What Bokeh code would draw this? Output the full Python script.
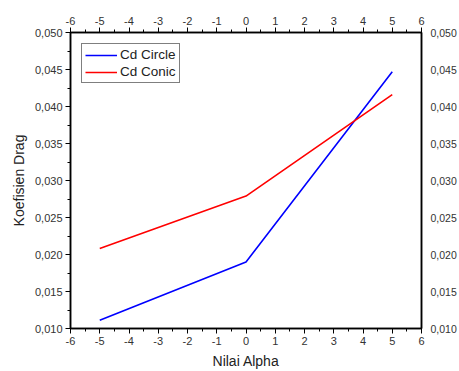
from bokeh.plotting import figure
from bokeh.models import (LinearAxis, SingleIntervalTicker, CustomJSTickFormatter,
                          Range1d, Legend, LegendItem)
from bokeh.embed import file_html
from bokeh.resources import INLINE

# Drag coefficient versus angle of attack
alpha = [-5, 0, 5]
cd_circle = [0.0111, 0.0190, 0.0447]
cd_conic = [0.0208, 0.0279, 0.0416]

FONT = "Liberation Sans"

p = figure(width=459, height=371, output_backend="svg", toolbar_location=None,
           x_range=Range1d(-6, 6), y_range=Range1d(0.010, 0.050),
           min_border_left=70, min_border_right=36, min_border_top=32,
           min_border_bottom=42, x_axis_location=None, y_axis_location=None)
p.xgrid.visible = False
p.ygrid.visible = False
p.outline_line_color = "black"
p.outline_line_width = 1.5
p.background_fill_color = "white"
p.border_fill_color = "white"

y_fmt = CustomJSTickFormatter(code="return tick.toFixed(3).replace('.', ',');")
x_fmt = CustomJSTickFormatter(code="return Math.round(tick).toString();")


def make_axis(fmt, interval, with_ticks=True):
    ax = LinearAxis(ticker=SingleIntervalTicker(interval=interval, num_minor_ticks=2),
                    formatter=fmt)
    ax.axis_line_color = "black"
    ax.axis_line_width = 1.5
    ax.major_label_text_font = FONT
    ax.major_label_text_font_size = "11px"
    ax.major_label_text_color = "#333333"
    ax.axis_label_text_font = FONT
    ax.axis_label_text_font_size = "14px"
    ax.axis_label_text_font_style = "normal"
    ax.axis_label_text_color = "#222222"
    if with_ticks:
        ax.major_tick_in = 0
        ax.major_tick_out = 5
        ax.minor_tick_in = 0
        ax.minor_tick_out = 3
        ax.major_tick_line_color = "black"
        ax.minor_tick_line_color = "black"
        ax.major_label_standoff = 3
    else:
        ax.major_tick_line_color = None
        ax.minor_tick_line_color = None
        ax.major_tick_in = 0
        ax.major_tick_out = 0
        ax.major_label_standoff = 6
    return ax


bottom = make_axis(x_fmt, 1)
bottom.axis_label = "Nilai Alpha"
bottom.axis_label_standoff = 5
p.add_layout(bottom, "below")

top = make_axis(x_fmt, 1)
p.add_layout(top, "above")

left = make_axis(y_fmt, 0.005)
left.axis_label = "Koefisien Drag"
left.axis_label_standoff = 5
p.add_layout(left, "left")

right = make_axis(y_fmt, 0.005, with_ticks=False)
right.major_label_standoff = 5
right.major_label_text_font_size = "10.5px"
p.add_layout(right, "right")

r1 = p.line(alpha, cd_circle, line_color="#0000ff", line_width=1.6)
r2 = p.line(alpha, cd_conic, line_color="#ff0000", line_width=1.6)

legend = Legend(items=[LegendItem(label="Cd Circle", renderers=[r1]),
                       LegendItem(label="Cd Conic", renderers=[r2])])
legend.border_line_color = "black"
legend.border_line_width = 1
legend.label_text_font = FONT
legend.label_text_font_size = "13.5px"
legend.label_text_color = "#222222"
legend.glyph_width = 32
legend.glyph_height = 14
legend.label_standoff = 3
legend.spacing = 2
legend.padding = 3
legend.label_height = 14
legend.location = "top_left"
legend.margin = 11
p.add_layout(legend, "center")

open("out.html", "w").write(file_html(p, INLINE))
